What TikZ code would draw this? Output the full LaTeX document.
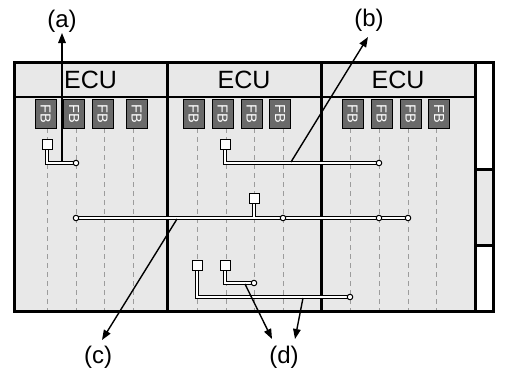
\documentclass[tikz,border=0pt]{standalone}
\usepackage{fontspec}
\setmainfont{Liberation Sans}
\usepackage{graphicx}
\usetikzlibrary{arrows.meta}
\definecolor{panel}{HTML}{E8E8E8}
\definecolor{fbgray}{HTML}{6A6A6A}
\definecolor{dashgray}{HTML}{9C9C9C}
\pgfdeclarelayer{bg}
\pgfdeclarelayer{buses}
\pgfsetlayers{bg,buses,main}
\begin{document}
\begin{tikzpicture}[x=1pt,y=-1pt,
  ecu/.style={font=\fontsize{25}{30}\selectfont, inner sep=0pt},
  fb/.style={draw=black, line width=0.9pt, fill=fbgray, minimum width=21pt, minimum height=29pt, inner sep=0pt, text=white, font=\fontsize{14.5}{16}\selectfont},
  sq/.style={draw=black, fill=white, line width=1pt, minimum size=10pt, inner sep=0pt},
  cir/.style={circle, draw=black, fill=white, line width=1pt, minimum size=5.5pt, inner sep=0pt},
  bus/.style={draw=black, line width=1.2pt, double=white, double distance=1.8pt},
  arr/.style={line width=1.4pt, -{Triangle[length=10pt,width=7.5pt]}},
  lab/.style={font=\fontsize{24}{28}\selectfont, inner sep=0pt},
  gdash/.style={draw=dashgray, line width=1pt, dash pattern=on 5pt off 4pt},
  frame/.style={line width=3pt}
]
\useasboundingbox (0,0) rectangle (512,370);

% ---------- background: panels, dashed lines, frame ----------
\begin{pgfonlayer}{bg}
  \fill[panel] (14.5,62) rectangle (475,311.5);
  \fill[panel] (475,169) rectangle (493,245);
  \foreach \x in {47,76,104,133,197,226,254,283,350,379,408,436}
    \draw[gdash] (\x,128) -- (\x,311);
  \draw[frame] (14.5,62) rectangle (493,311.5);
  \draw[frame] (167,62) -- (167,311.5);
  \draw[frame] (321,62) -- (321,311.5);
  \draw[frame] (475,62) -- (475,311.5);
  \draw[line width=2.4pt] (14.5,97) -- (475,97);
  \draw[frame] (475,169) -- (493,169);
  \draw[frame] (475,245) -- (493,245);
\end{pgfonlayer}

% ---------- ECU headers ----------
\node[ecu] (e1) at (90.5,80) {ECU};
\node[ecu] (e2) at (244,80) {ECU};
\node[ecu] (e3) at (398,80) {ECU};

% ---------- function blocks ----------
\foreach \x [count=\i] in {45.5,74,102.5,136.5,193.5,222.5,251.5,280,352.5,381.5,410.5,439}
  \node[fb] (f\i) at (\x,113.5) {\rotatebox{-90}{FB}};

% ---------- squares ----------
\node[sq] (s1) at (47,144) {};
\node[sq] (s2) at (225,144) {};
\node[sq] (s3) at (254,198) {};
\node[sq] (s4) at (197,265) {};
\node[sq] (s5) at (225,265) {};

% ---------- circles ----------
\node[cir] (c1) at (76,163) {};
\node[cir] (c2) at (379,163) {};
\node[cir] (c3) at (76,218) {};
\node[cir] (c4) at (283,218) {};
\node[cir] (c5) at (379,218) {};
\node[cir] (c6) at (408,218) {};
\node[cir] (c7) at (254,283) {};
\node[cir] (c8) at (350,297) {};

% ---------- buses ----------
\begin{pgfonlayer}{buses}
  \draw[bus] (s1.south) |- (c1.center);
  \draw[bus] (s2.south) |- (c2.center);
  \draw[bus] (c3.center) -- (c6.center) (s3.south) -- (s3.south |- c4.center);
  \draw[bus] (s4.south) |- (c8.center);
  \draw[bus] (s5.south) |- (c7.center);
\end{pgfonlayer}

% ---------- labels ----------
\node[lab] (la) at (62,21) {(a)};
\node[lab] (lb) at (369,20) {(b)};
\node[lab] (lc) at (98,357.5) {(c)};
\node[lab] (ld) at (284,357.5) {(d)};

% ---------- arrow ends ----------
\coordinate (aa) at (62,161);
\coordinate (ta) at (62,33);
\coordinate (ab) at (291,162);
\coordinate (tb) at (368,37);
\coordinate (ac) at (177,219);
\coordinate (tc) at (102,340);
\coordinate (ad1) at (245,284);
\coordinate (td1) at (272,339);
\coordinate (ad2) at (303,298);
\coordinate (td2) at (295,339);

\draw[arr] (aa) -- (ta);
\draw[arr] (ab) -- (tb);
\draw[arr] (ac) -- (tc);
\draw[arr] (ad1) -- (td1);
\draw[arr] (ad2) -- (td2);
\end{tikzpicture}
\end{document}
